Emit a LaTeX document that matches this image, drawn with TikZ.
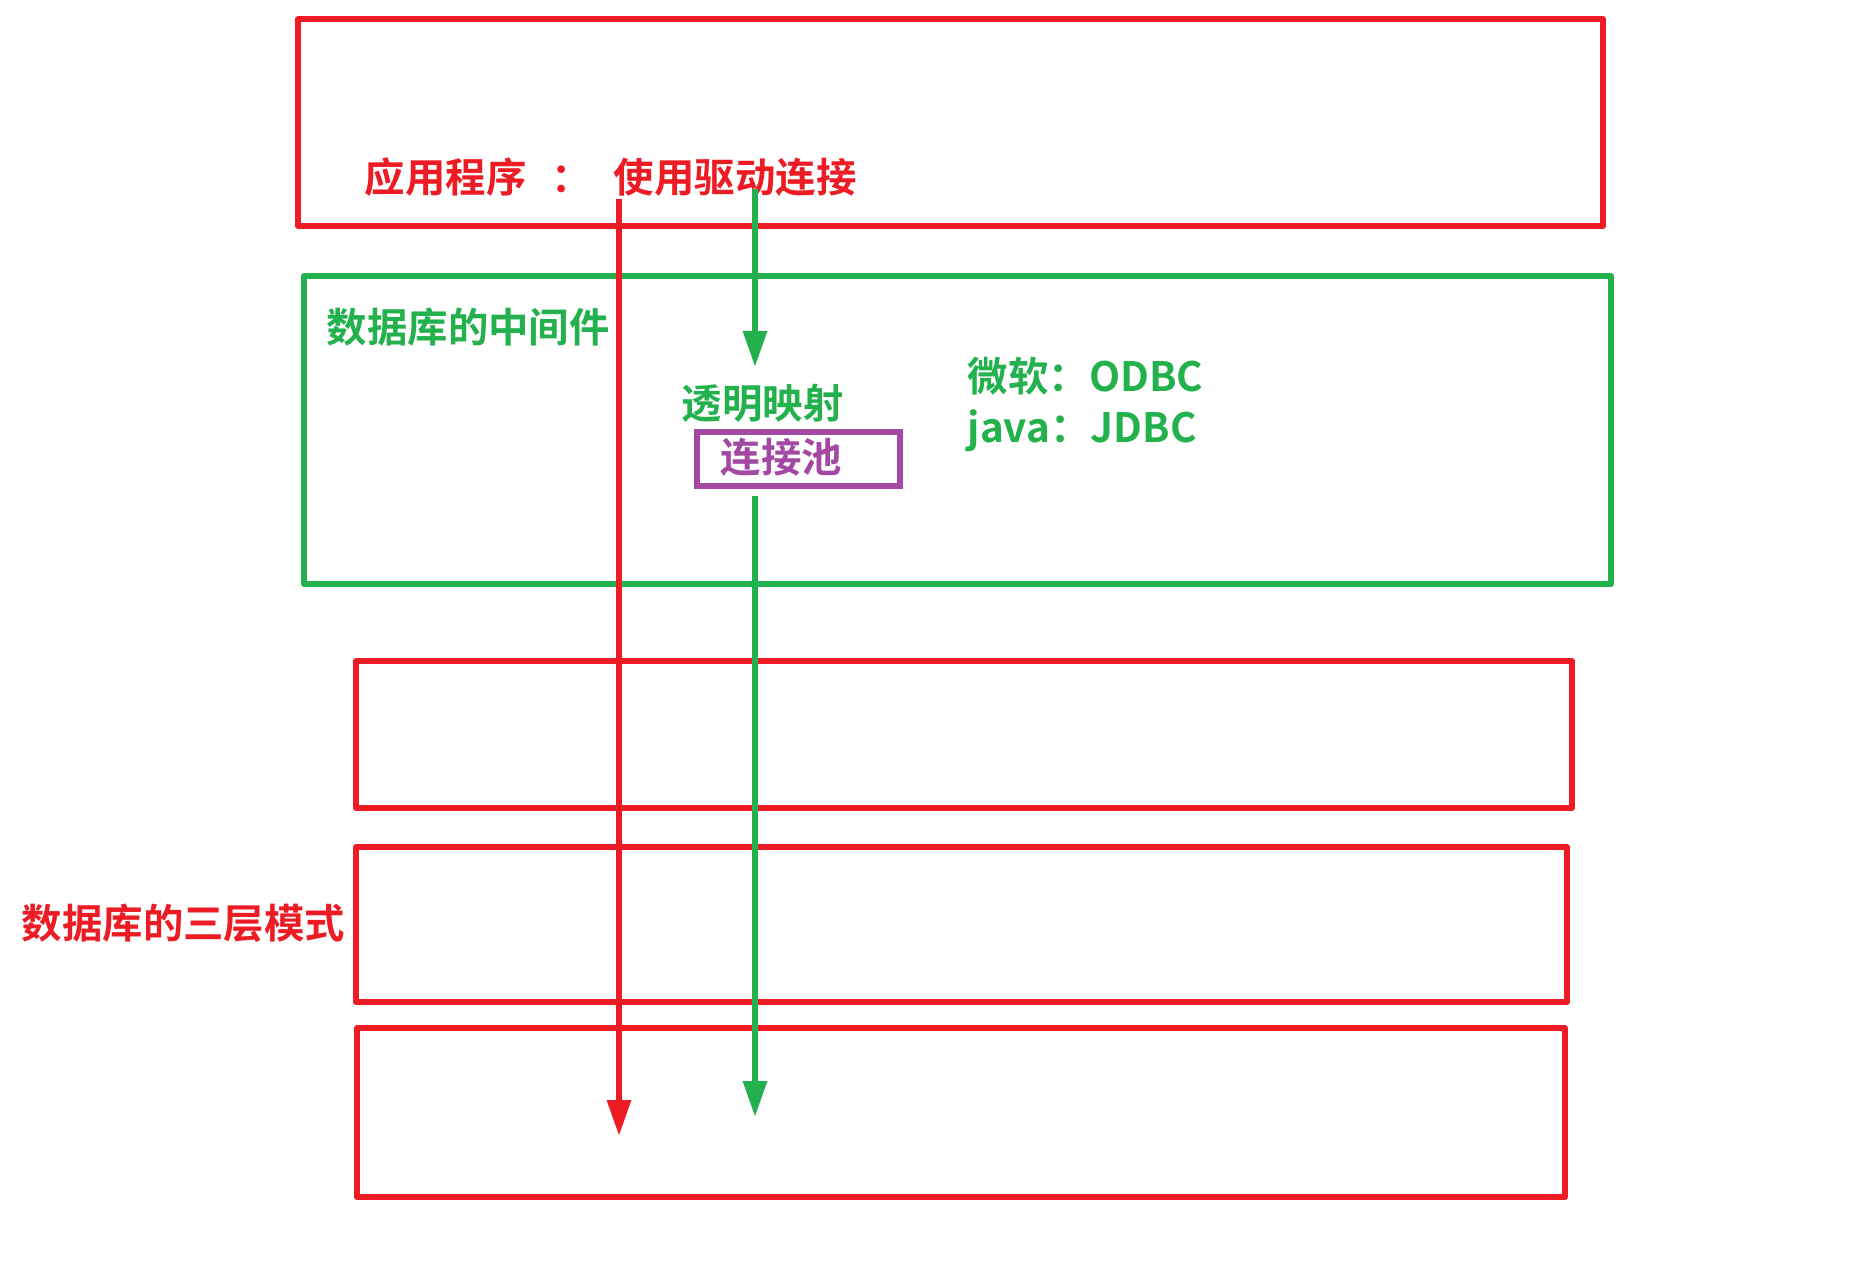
\documentclass[tikz,border=0pt]{standalone}
\usepackage{fontspec}
\newfontfamily\cjk{Noto Sans CJK SC}[BoldFont={Noto Sans CJK SC Bold}]
\usetikzlibrary{arrows.meta}
\definecolor{pred}{HTML}{ED1C24}
\definecolor{pgreen}{HTML}{22B14C}
\definecolor{ppurple}{HTML}{A349A4}
\begin{document}
\begin{tikzpicture}[x=0.01cm,y=-0.01cm,
  frame/.style={draw=#1,line width=1.65pt,line join=round},
  lbl/.style={anchor=west,inner sep=0pt,text=#1,font=\cjk\bfseries\fontsize{11.5pt}{13pt}\selectfont},
  arr/.style={draw=#1,line width=1.75pt,-{Triangle[length=0.36cm,width=0.23cm]}}]
\useasboundingbox (0,0) rectangle (1855,1284);
% boxes
\draw[frame=pred] (298,19) rectangle (1603,226);
\draw[frame=pgreen] (304,276) rectangle (1611,584);
\draw[frame=pred] (356,661) rectangle (1572,808);
\draw[frame=pred] (356,847) rectangle (1567,1002);
\draw[frame=pred] (357,1028) rectangle (1565,1197);
% texts
\node[lbl=pred] (app) at (364,177) {应用程序\hspace{0.25cm}：\hspace{0.22cm}使用驱动连接};
\node[lbl=pgreen] (mid) at (326,327) {数据库的中间件};
\node[lbl=pgreen] (map) at (681,403) {透明映射};
\node[lbl=pgreen] (odbc) at (967,376) {微软：ODBC};
\node[lbl=pgreen] (jdbc) at (967,431) {java：JDBC};
\node[lbl=pred] (three) at (21,923) {数据库的三层模式};
\node[draw=ppurple,line width=1.65pt,minimum width=2.03cm,minimum height=0.54cm,inner sep=0pt] (pool) at (798.5,459) {};
\node[lbl=ppurple] (pooltxt) at (720,457) {连接池};
% connector end points
\coordinate (gs) at (755,189);
\coordinate (ge) at (755,367);
\coordinate (g2e) at (755,1117);
\coordinate (rs) at (619,199);
\coordinate (re) at (619,1136);
\draw[arr=pred] (rs) -- (re);
\draw[arr=pgreen] (gs) -- (ge);
\draw[arr=pgreen] ([yshift=-0.07cm]pool.south -| g2e) -- (g2e);
\end{tikzpicture}
\end{document}
